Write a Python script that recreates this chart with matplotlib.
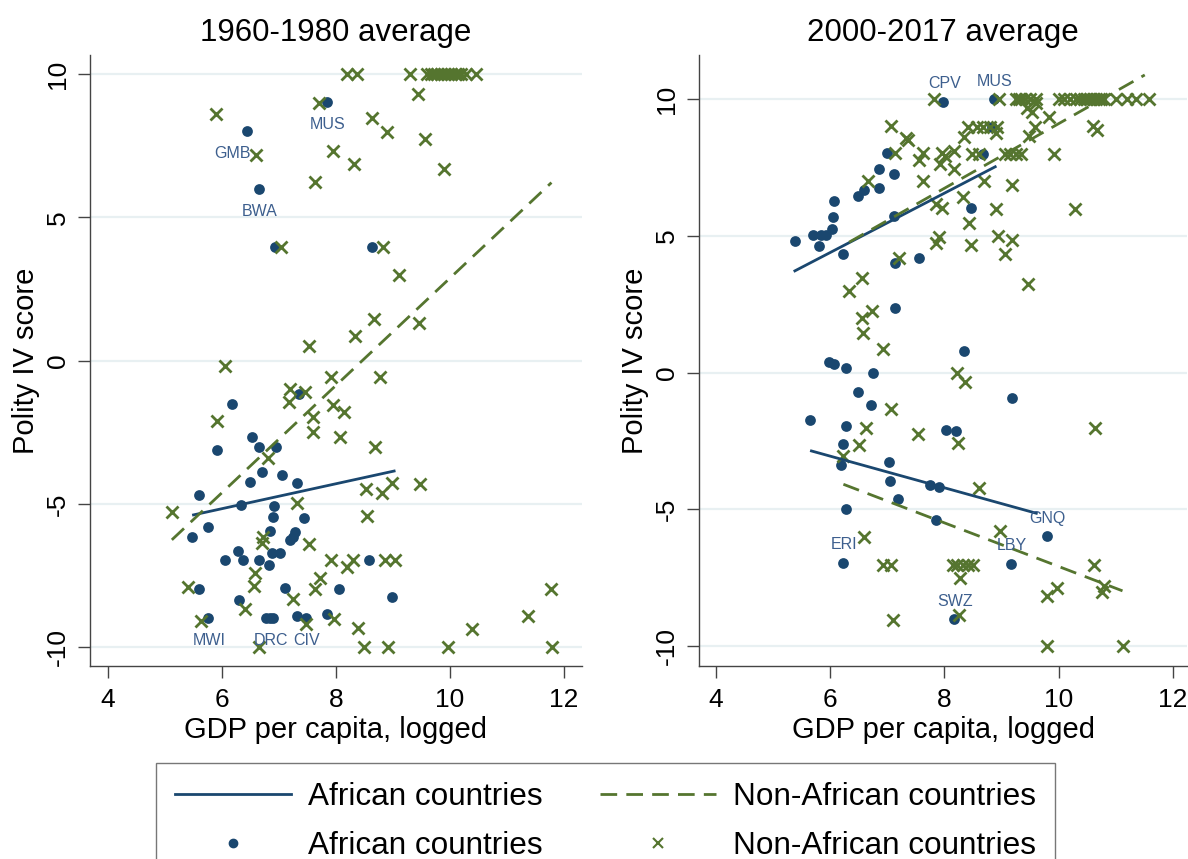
import numpy as np
import matplotlib
matplotlib.use('Agg')
import matplotlib.pyplot as plt
from matplotlib.lines import Line2D

plt.rcParams['font.family'] = ['Liberation Sans', 'DejaVu Sans']
plt.rcParams['axes.unicode_minus'] = False

# Data: 1960-1980 average
af60_x = [7.84, 6.43, 6.65, 6.93, 8.64, 7.35, 6.17, 6.52, 5.92, 6.65, 6.94, 6.70, 7.06,
          6.49, 7.31, 5.60, 6.33, 6.91, 6.89, 7.44, 5.75, 5.47, 6.85, 7.28, 7.19, 7.25,
          6.28, 6.87, 7.01, 6.05, 6.36, 6.65, 6.82, 8.58, 5.60, 7.11, 8.05, 8.99, 6.30,
          5.76, 6.78, 6.84, 6.89, 7.31, 7.47, 7.85]
af60_y = [9.03, 8.02, 6.00, 3.98, 3.98, -1.16, -1.51, -2.67, -3.11, -3.00, -3.00, -3.87, -3.99,
          -4.22, -4.26, -4.68, -5.03, -5.07, -5.44, -5.48, -5.79, -6.14, -5.95, -5.99, -6.25, -6.16,
          -6.64, -6.72, -6.70, -6.95, -6.95, -6.95, -7.13, -6.95, -7.96, -7.92, -7.96, -8.23, -8.35,
          -8.96, -8.96, -8.96, -8.96, -8.91, -8.96, -8.85]

naf60_x = [8.19, 8.37, 9.30, 9.60, 9.66, 9.72, 9.78, 9.84, 9.90, 9.96, 10.02, 10.08, 10.14,
           10.20, 10.28, 10.45, 9.43, 7.71, 5.89, 8.63, 8.89, 9.56, 6.59, 7.94, 8.32, 9.89,
           7.64, 7.03, 8.82, 9.11, 8.67, 9.46, 8.34, 7.53, 6.05, 7.91, 8.77, 7.19, 7.46,
           7.18, 7.94, 8.14, 7.59, 5.92, 7.59, 8.07, 8.68, 6.81, 8.53, 8.81, 8.99, 9.47,
           7.32, 5.13, 8.55, 6.72, 6.71, 7.53, 7.91, 8.30, 8.20, 8.86, 9.04, 6.58, 7.72,
           7.64, 6.56, 5.40, 11.77, 7.24, 6.40, 8.38, 10.38, 11.37, 5.64, 7.97, 7.47,
           6.65, 8.49, 8.91, 9.97, 11.79]
naf60_y = [10, 10, 10, 10, 10, 10, 10, 10, 10, 10, 10, 10, 10,
           10, 10, 10, 9.30, 9.00, 8.60, 8.48, 7.99, 7.73, 7.17, 7.31, 6.86, 6.70,
           6.22, 3.96, 3.96, 2.99, 1.44, 1.33, 0.87, 0.50, -0.19, -0.58, -0.58, -1.00, -1.10,
           -1.45, -1.53, -1.80, -1.97, -2.09, -2.50, -2.67, -3.02, -3.40, -4.49, -4.61, -4.28, -4.30,
           -4.97, -5.29, -5.42, -6.16, -6.37, -6.40, -6.97, -6.97, -7.21, -6.95, -6.97, -7.42, -7.59,
           -7.98, -7.86, -7.91, -7.98, -8.32, -8.67, -9.33, -9.37, -8.91, -9.07, -9.00, -9.19,
           -10, -10, -10, -10, -10]

# Data: 2000-2017 average
af00_x = [7.98, 8.86, 8.83, 7.00, 8.68, 6.86, 7.12, 6.86, 6.59, 6.49, 6.07, 8.46, 6.04,
          7.12, 6.03, 5.70, 5.84, 5.93, 5.39, 5.81, 6.23, 7.14, 7.56, 7.14, 8.34, 5.98,
          6.07, 6.28, 6.74, 6.49, 9.18, 6.71, 5.65, 6.28, 8.03, 8.21, 6.23, 6.18, 7.03,
          7.05, 7.75, 7.91, 7.19, 6.27, 7.86, 9.79, 6.23, 9.16, 8.17]
af00_y = [9.91, 10.0, 9.00, 8.05, 8.00, 7.44, 7.26, 6.77, 6.68, 6.47, 6.29, 6.01, 5.70,
          5.74, 5.24, 5.02, 5.02, 5.02, 4.83, 4.64, 4.34, 4.00, 4.18, 2.37, 0.77, 0.40,
          0.31, 0.18, 0.00, -0.73, -0.94, -1.20, -1.73, -1.94, -2.10, -2.15, -2.61, -3.38, -3.29,
          -3.98, -4.10, -4.20, -4.63, -4.99, -5.39, -6.00, -6.96, -7.00, -9.02]

naf00_x = [7.82, 8.96, 9.25, 9.30, 9.35, 9.42, 9.50, 9.60, 10.00, 10.10, 10.20, 10.30, 10.38,
           10.45, 10.50, 10.55, 10.60, 10.65, 10.70, 10.75, 10.80, 11.00, 11.20, 11.35, 11.58,
           9.44, 9.53, 9.61, 9.83, 10.60, 10.68, 9.59, 9.49, 7.06, 7.33, 7.36, 8.42, 8.57,
           8.68, 8.80, 8.92, 8.91, 8.35, 7.13, 7.62, 7.56, 7.95, 8.01, 8.16, 7.93, 8.17,
           8.49, 8.61, 9.06, 9.15, 9.25, 9.35, 9.92, 6.66, 7.63, 8.70, 9.18, 8.32, 7.86,
           7.95, 8.91, 10.29, 8.43, 7.90, 7.85, 8.46, 8.93, 9.18, 9.06, 7.21, 9.46, 6.55,
           6.33, 6.73, 6.55, 6.57, 6.92, 8.22, 8.36, 7.06, 6.63, 7.53, 8.23, 10.64, 6.51,
           6.23, 8.61, 8.97, 6.59, 6.92, 7.07, 8.15, 8.22, 8.33, 8.42, 8.50, 8.27, 10.62,
           9.98, 9.80, 10.76, 10.79, 8.26, 7.10, 9.79, 11.12]
naf00_y = [10, 10, 10, 10, 10, 10, 10, 10, 10, 10, 10, 10, 10,
           10, 10, 10, 10, 10, 10, 10, 10, 10, 10, 10, 10,
           9.67, 9.55, 9.85, 9.36, 9.02, 8.88, 9.00, 8.66, 9.02, 8.58, 8.50, 9.00, 9.00,
           9.00, 9.00, 9.00, 8.75, 8.61, 8.02, 8.02, 7.78, 8.02, 7.93, 8.12, 7.62, 7.44,
           8.00, 8.00, 8.00, 8.00, 8.00, 8.00, 8.00, 7.01, 7.01, 7.01, 6.86, 6.44, 6.17,
           6.01, 5.99, 5.99, 5.49, 4.97, 4.73, 4.67, 5.00, 4.85, 4.34, 4.20, 3.24, 3.47,
           2.99, 2.26, 1.99, 1.46, 0.85, 0.00, -0.35, -1.32, -2.04, -2.24, -2.59, -2.04, -2.65,
           -3.05, -4.23, -5.80, -6.03, -7.04, -7.04, -7.04, -7.04, -7.04, -7.04, -7.04, -7.53, -7.04,
           -7.89, -8.17, -8.04, -7.81, -8.87, -9.05, -10, -10]

# fitted lines (end points)
fit60_af_x, fit60_af_y = [5.50, 9.02], [-5.38, -3.85]
fit60_naf_x, fit60_naf_y = [5.12, 11.78], [-6.25, 6.21]
fit00_af_hi_x, fit00_af_hi_y = [5.38, 8.89], [3.72, 7.53]
fit00_af_lo_x, fit00_af_lo_y = [5.67, 9.61], [-2.87, -5.15]
fit00_naf_hi_x, fit00_naf_hi_y = [6.33, 11.51], [4.77, 10.89]
fit00_naf_lo_x, fit00_naf_lo_y = [6.23, 11.12], [-4.09, -7.99]

# labelled countries
lab60_name = ['MUS', 'GMB', 'BWA', 'MWI', 'DRC', 'CIV']
lab60_x = [7.84, 6.43, 6.65, 5.76, 6.84, 7.47]
lab60_y = [9.03, 8.02, 6.00, -8.96, -8.96, -8.96]
lab00_name = ['CPV', 'MUS', 'GNQ', 'ERI', 'LBY', 'SWZ']
lab00_x = [7.98, 8.86, 9.79, 6.23, 9.16, 8.17]
lab00_y = [9.91, 10.0, -6.00, -6.96, -7.00, -9.02]

blue = '#1a476f'
green = '#55752f'
labcol = '#3d5f8e'
dash = (6, 3.3)

fig = plt.figure(figsize=(11.88, 8.59), dpi=100)
ax1 = fig.add_axes([90/1188, 193/859, 492/1188, 611/859])
ax2 = fig.add_axes([699/1188, 193/859, 488/1188, 611/859])


def style(ax, title):
    for s in ['top', 'right']:
        ax.spines[s].set_visible(False)
    for s in ['left', 'bottom']:
        ax.spines[s].set_color('#444444')
        ax.spines[s].set_linewidth(1.0)
    ax.set_xticks([4, 6, 8, 10, 12])
    ax.set_yticks([-10, -5, 0, 5, 10])
    ax.tick_params(axis='both', length=8.5, width=1.0, color='#444444', labelsize=19)
    ax.tick_params(axis='x', pad=7)
    ax.tick_params(axis='y', pad=6, labelrotation=90)
    for t in ax.get_yticklabels():
        t.set_va('center')
    ax.grid(axis='y', color='#e8f0f2', linewidth=1.6)
    ax.set_axisbelow(True)
    ax.set_title(title, fontsize=22.5, pad=10)
    ax.set_xlabel('GDP per capita, logged', fontsize=21, labelpad=3)
    ax.set_ylabel('Polity IV score', fontsize=21, labelpad=4)


# left panel
ax1.scatter(af60_x, af60_y, s=60, color=blue, marker='o', linewidths=0, zorder=3)
ax1.scatter(naf60_x, naf60_y, s=75, color=green, marker='x', linewidths=2, zorder=3)
ax1.plot(fit60_af_x, fit60_af_y, color=blue, lw=2, zorder=4)
ax1.plot(fit60_naf_x, fit60_naf_y, color=green, lw=2, dashes=dash, zorder=4)
for n, x, y in zip(lab60_name, lab60_x, lab60_y):
    dx = -14 if n == 'GMB' else 1
    ax1.annotate(n, (x, y), xytext=(dx, -23), textcoords='offset pixels',
                 ha='center', va='center', fontsize=11.5, color=labcol, zorder=5)
ax1.set_xlim(3.684, 12.316)
ax1.set_ylim(-10.65, 10.66)
style(ax1, '1960-1980 average')

# right panel
ax2.scatter(af00_x, af00_y, s=60, color=blue, marker='o', linewidths=0, zorder=3)
ax2.scatter(naf00_x, naf00_y, s=75, color=green, marker='x', linewidths=2, zorder=3)
ax2.plot(fit00_af_hi_x, fit00_af_hi_y, color=blue, lw=2, zorder=4)
ax2.plot(fit00_af_lo_x, fit00_af_lo_y, color=blue, lw=2, zorder=4)
ax2.plot(fit00_naf_hi_x, fit00_naf_hi_y, color=green, lw=2, dashes=dash, zorder=4)
ax2.plot(fit00_naf_lo_x, fit00_naf_lo_y, color=green, lw=2, dashes=dash, zorder=4)
for n, x, y in zip(lab00_name, lab00_x, lab00_y):
    ax2.annotate(n, (x, y), xytext=(1, 18), textcoords='offset pixels',
                 ha='center', va='center', fontsize=11.5, color=labcol, zorder=5)
ax2.set_xlim(3.70, 12.25)
ax2.set_ylim(-10.74, 11.62)
style(ax2, '2000-2017 average')

# legend
handles = [Line2D([], [], color=blue, lw=2),
           Line2D([], [], color=blue, marker='o', ls='none', markersize=6),
           Line2D([], [], color=green, lw=2, dashes=dash),
           Line2D([], [], color=green, marker='x', ls='none', markersize=7, markeredgewidth=1.5)]
labels = ['African countries', 'African countries',
          'Non-African countries', 'Non-African countries']
leg = fig.legend(handles, labels, ncol=2, loc='upper center',
                 bbox_to_anchor=(605.5/1188, 1 - 763/859), fontsize=22.7,
                 frameon=True, fancybox=False, edgecolor='#555555',
                 handlelength=3.7, handletextpad=0.54, columnspacing=1.8,
                 borderpad=0.6, labelspacing=0.6, borderaxespad=0)
leg.get_frame().set_linewidth(1.0)

fig.savefig('out.png', dpi=100)
